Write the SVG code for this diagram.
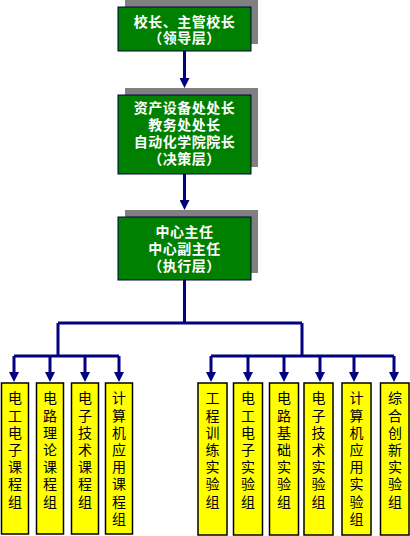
<svg xmlns="http://www.w3.org/2000/svg" width="410" height="536" viewBox="0 0 410 536">
<defs>
<marker id="ah" viewBox="0 0 10 10" markerWidth="10" markerHeight="10" markerUnits="userSpaceOnUse" refX="0" refY="5" orient="auto">
<path d="M0,0 L10,5 L0,10 z" fill="#000080"/>
</marker>
<style>
.sh{fill:#808080}
.gb{fill:#008000;stroke:#000040;stroke-width:1}
.gt{font-family:"Liberation Sans","Noto Sans CJK SC",sans-serif;font-size:14px;font-weight:bold;fill:#ffffff;text-anchor:middle;letter-spacing:0.5px}
.yb{fill:#ffff00;stroke:#000000;stroke-width:1.5}
.yt{font-family:"Noto Sans CJK SC","Noto Sans",sans-serif;font-size:14px;fill:#000000;writing-mode:vertical-rl;letter-spacing:3.2px}
.ln{stroke:#000080;stroke-width:3;fill:none}
</style>
</defs>
<rect width="410" height="536" fill="#ffffff"/>
<g id="connectors">
<line class="ln" x1="184.5" y1="51" x2="184.5" y2="78" marker-end="url(#ah)"/>
<line class="ln" x1="184.5" y1="174" x2="184.5" y2="200" marker-end="url(#ah)"/>
<polyline class="ln" points="184.5,280 184.5,323"/>
<polyline class="ln" points="58,323 302,323"/>
<polyline class="ln" points="58,323 58,356"/>
<polyline class="ln" points="302,323 302,356"/>
<polyline class="ln" points="14,356 119,356"/>
<polyline class="ln" points="211,356 394,356"/>
<line class="ln" x1="14" y1="356" x2="14" y2="372" marker-end="url(#ah)"/>
<line class="ln" x1="50" y1="356" x2="50" y2="372" marker-end="url(#ah)"/>
<line class="ln" x1="85" y1="356" x2="85" y2="372" marker-end="url(#ah)"/>
<line class="ln" x1="119" y1="356" x2="119" y2="372" marker-end="url(#ah)"/>
<line class="ln" x1="211" y1="356" x2="211" y2="372" marker-end="url(#ah)"/>
<line class="ln" x1="248" y1="356" x2="248" y2="372" marker-end="url(#ah)"/>
<line class="ln" x1="284" y1="356" x2="284" y2="372" marker-end="url(#ah)"/>
<line class="ln" x1="320" y1="356" x2="320" y2="372" marker-end="url(#ah)"/>
<line class="ln" x1="354" y1="356" x2="354" y2="372" marker-end="url(#ah)"/>
<line class="ln" x1="394" y1="356" x2="394" y2="372" marker-end="url(#ah)"/>
</g>
<g id="leader">
<rect class="sh" x="125" y="0" width="133" height="44"/>
<rect class="gb" x="118" y="7" width="133" height="44"/>
<text class="gt" x="184.5" y="27">校长、主管校长</text>
<text class="gt" x="184.5" y="43">（领导层）</text>
</g>
<g id="decision">
<rect class="sh" x="125" y="88" width="133" height="79"/>
<rect class="gb" x="118" y="95" width="133" height="79"/>
<text class="gt" x="184.5" y="113">资产设备处处长</text>
<text class="gt" x="184.5" y="130">教务处处长</text>
<text class="gt" x="184.5" y="147">自动化学院院长</text>
<text class="gt" x="184.5" y="164">（决策层）</text>
</g>
<g id="exec">
<rect class="sh" x="125" y="210" width="133" height="63"/>
<rect class="gb" x="118" y="217" width="133" height="63"/>
<text class="gt" x="184.5" y="237">中心主任</text>
<text class="gt" x="184.5" y="254">中心副主任</text>
<text class="gt" x="184.5" y="271">（执行层）</text>
</g>
<g id="c1">
<rect class="yb" x="1.5" y="383" width="27" height="151"/>
<text class="yt" x="15" y="391">电工电子课程组</text>
</g>
<g id="c2">
<rect class="yb" x="36.5" y="383" width="27" height="151"/>
<text class="yt" x="50" y="391">电路理论课程组</text>
</g>
<g id="c3">
<rect class="yb" x="71.5" y="383" width="27" height="151"/>
<text class="yt" x="85" y="391">电子技术课程组</text>
</g>
<g id="c4">
<rect class="yb" x="105.5" y="383" width="27" height="151"/>
<text class="yt" x="119" y="391">计算机应用课程组</text>
</g>
<g id="l1">
<rect class="yb" x="198" y="383" width="29" height="152"/>
<text class="yt" x="212.5" y="391">工程训练实验组</text>
</g>
<g id="l2">
<rect class="yb" x="233.5" y="383" width="29" height="152"/>
<text class="yt" x="248" y="391">电工电子实验组</text>
</g>
<g id="l3">
<rect class="yb" x="269.5" y="383" width="29" height="152"/>
<text class="yt" x="284" y="391">电路基础实验组</text>
</g>
<g id="l4">
<rect class="yb" x="304" y="383" width="29" height="152"/>
<text class="yt" x="318.5" y="391">电子技术实验组</text>
</g>
<g id="l5">
<rect class="yb" x="342" y="383" width="29" height="152"/>
<text class="yt" x="356.5" y="391">计算机应用实验组</text>
</g>
<g id="l6">
<rect class="yb" x="380.5" y="383" width="28.5" height="152"/>
<text class="yt" x="395" y="391">综合创新实验组</text>
</g>
</svg>
